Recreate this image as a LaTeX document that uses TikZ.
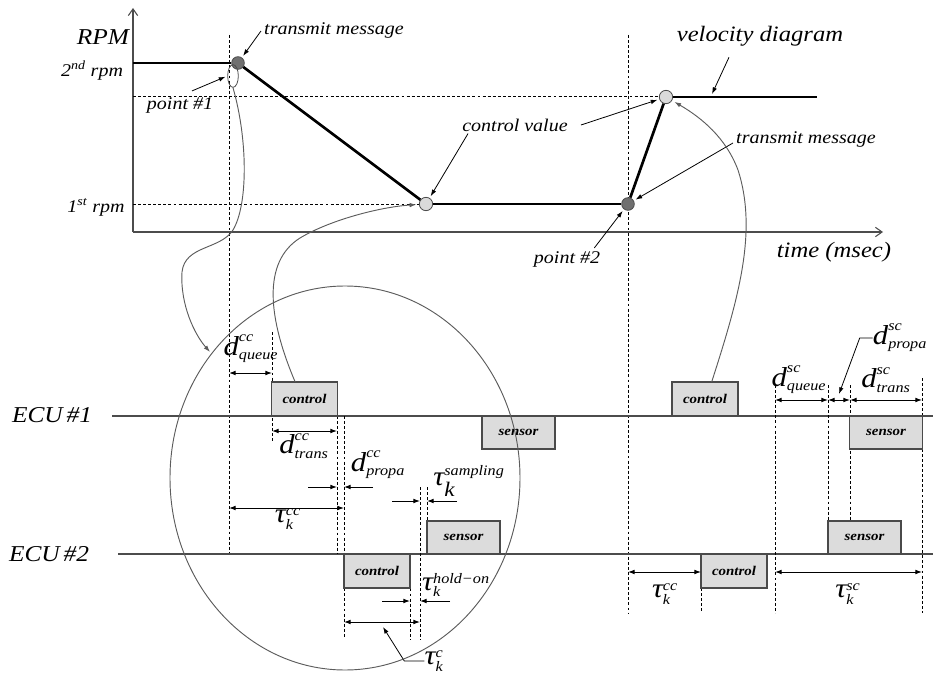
\documentclass[tikz,border=0pt]{standalone}
\usepackage{fontspec}
\usepackage{amsmath}
\setmainfont{Liberation Serif}
\newfontfamily\labfam{Liberation Serif}[FakeStretch=1.12]
\usetikzlibrary{arrows.meta,shapes.geometric,calc}
\definecolor{boxfill}{HTML}{DCDCDC}
\definecolor{boxedge}{HTML}{4A4A4A}
\definecolor{axisgray}{HTML}{4C4C4C}
\definecolor{darkdot}{HTML}{707070}
\definecolor{lightdot}{HTML}{DADADA}
\definecolor{linkgray}{HTML}{5C5C5C}
% a delay label: large base letter with super- and subscript
\newcommand\dly[3]{$\text{\fontsize{20.5}{24}\selectfont #1}^{\text{#2}}_{\text{#3}}$}
% same, with the subscript set a little lower (superscript with descenders)
\newcommand\dlylow[3]{$\text{\fontsize{20.5}{24}\selectfont #1}^{\text{#2}}_{\raisebox{-2.5pt}{\text{#3}}}$}

\begin{document}
\begin{tikzpicture}[x=0.75pt,y=-0.75pt,
  lbl/.style={font=\labfam\itshape\fontsize{13.4}{15}\selectfont, inner sep=0pt},
  biglbl/.style={font=\labfam\itshape\fontsize{16.5}{19}\selectfont, inner sep=0pt},
  ecul/.style={font=\labfam\itshape\fontsize{17}{20}\selectfont, inner sep=0pt},
  mlbl/.style={font=\labfam\itshape\fontsize{15.5}{19}\selectfont, inner sep=0pt},
  task/.style={draw=boxedge, fill=boxfill, line width=0.8pt, inner sep=0pt, outer sep=0pt,
    font=\labfam\bfseries\itshape\fontsize{10}{12}\selectfont},
  ctlbox/.style={task, minimum width=49.5pt, minimum height=25.5pt},
  senbox/.style={task, minimum width=54.75pt, minimum height=24.75pt},
  guide/.style={dash pattern=on 2.2pt off 1.6pt, line width=0.6pt},
  axis/.style={axisgray, line width=0.8pt, -{Straight Barb[length=5pt,width=7pt]}},
  ecu/.style={axisgray, line width=0.8pt},
  curve/.style={line width=2pt, line join=round},
  dim/.style={line width=0.7pt, {Latex[length=5pt,width=3.6pt]}-{Latex[length=5pt,width=3.6pt]}},
  half/.style={line width=0.7pt, -{Latex[length=5pt,width=3.6pt]}},
  ptr/.style={line width=0.6pt, -{Latex[length=5pt,width=3.4pt]}},
  link/.style={linkgray, line width=0.7pt, -{Latex[length=5pt,width=3.4pt]}},
  dotdark/.style={circle, draw=axisgray, fill=darkdot, line width=0.6pt, minimum size=9.5pt, inner sep=0pt},
  dotlight/.style={circle, draw=axisgray, fill=lightdot, line width=0.6pt, minimum size=10pt, inner sep=0pt}
]
\useasboundingbox (0,0) rectangle (933,674);

% ---------------- velocity diagram ----------------
\draw[axis] (133,232) -- (133,8);
\draw[axis] (133,232) -- (883,232);

\node[biglbl, anchor=center] (rpm) at (103,37) {\fontsize{17}{20}\selectfont RPM};
\node[lbl] (r2) at (92,71) {2\textsuperscript{nd} rpm};
\node[lbl] (r1) at (96,207) {1\textsuperscript{st} rpm};

% guide lines of the plot
\draw[guide] (133,96) -- (660,96);
\draw[guide] (133,204) -- (419,204);
\draw[guide] (229,35) -- (229,554);
\draw[guide] (628,35) -- (628,613);

% event points
\node[dotdark]  (c1) at (238,63) {};
\node[dotlight] (c2) at (426,204) {};
\node[dotdark]  (c3) at (628,204) {};
\node[dotlight] (c4) at (666,97) {};
\node[ellipse, draw=axisgray, line width=0.6pt, minimum width=8pt, minimum height=17pt, inner sep=0pt] (pt1) at (233,76) {};

\coordinate (rpm2) at (133,63);
\coordinate (vend) at (817,97);
\draw[curve] (rpm2) -- (c1);
\draw[curve] (c1) -- (c2);
\draw[curve] (c2) -- (c3);
\draw[curve] (c3) -- (c4);
\draw[curve] (c4) -- (vend);

% annotations of the plot
\node[lbl] (tm1) at (334,30) {transmit message};
\node[lbl] (p1) at (180,105) {point \#1};
\node[lbl] (cv) at (515,125) {control value};
\node[biglbl] (vd) at (760,36) {velocity diagram};
\node[lbl] (tm2) at (806,139) {transmit message};
\node[lbl] (p2) at (567,259) {point \#2};
\node[biglbl] (tx) at (834,252) {time (msec)};

\draw[ptr, shorten >=1.5pt] ($(tm1.west)+(-3,1)$) -- (c1);
\draw[ptr, shorten >=1.5pt] ($(p1.north)+(12,-6)$) -- (pt1.west);
\draw[ptr, shorten >=1.5pt] ($(cv.south west)+(6,2)$) -- (c2);
\draw[ptr, shorten >=1.5pt] ($(cv.east)+(13,0)$) -- (c4);
\coordinate (vdt) at (712,94);
\draw[ptr] ($(vd.south)+(-31,11)$) -- (vdt);
\draw[ptr, shorten >=1.5pt] ($(tm2.west)+(-3,4)$) -- (c3);
\draw[ptr, shorten >=1.5pt] ($(p2.north east)+(-6,-3)$) -- (c3);

% ---------------- ECU time lines ----------------
\node[ecul] (e1) at (52,415) {ECU\,\#1};
\node[ecul] (e2) at (49,554) {ECU\,\#2};
\draw[ecu] (112,416) -- (933,416);
\draw[ecu] (118,554) -- (933,554);

% guide lines of the timing part
\draw[guide] (272,332) -- (272,443);
\draw[guide] (337,416) -- (337,554);
\draw[guide] (344,416) -- (344,638);
\draw[guide] (420,487) -- (420,640);
\draw[guide] (427,487) -- (427,521);
\draw[guide] (410,553) -- (410,640);
\draw[guide] (701,588) -- (701,613);
\draw[guide] (775,385) -- (775,613);
\draw[guide] (828,385) -- (828,521);
\draw[guide] (850,385) -- (850,521);
\draw[guide] (922,378) -- (922,613);

% tasks
\node[ctlbox] (ctl1) at (304.5,399) {control};
\node[senbox] (sen1) at (518.5,432.5) {sensor};
\node[senbox] (sen2) at (463.5,537.5) {sensor};
\node[ctlbox] (ctl2) at (377,571) {control};
\node[ctlbox] (ctl3) at (705,399) {control};
\node[senbox] (sen3) at (886,432.5) {sensor};
\node[senbox] (sen4) at (864.5,537.5) {sensor};
\node[ctlbox] (ctl4) at (734,571) {control};

% delays of the control message
\draw[dim] (229,373) -- (272,373);
\draw[dim] (272,431) -- (337,431);
\draw[half] (308,487) -- (337,487);
\draw[half] (373,487) -- (344,487);
\draw[dim] (229,508) -- (344,508);
\draw[half] (392,501) -- (420,501);
\draw[half] (457,501) -- (427,501);
\draw[half] (382,601) -- (410,601);
\draw[half] (450,601) -- (420,601);
\draw[dim] (344,622) -- (420,622);

\node[mlbl] (dq1) at (251,349) {\dly{d}{cc}{queue}};
\node[mlbl] (dt1) at (304,446) {\dly{d}{cc}{trans}};
\node[mlbl] (dp1) at (378,465) {\dly{d}{cc}{propa}};
\node[mlbl] (tcc1) at (288,519) {\dly{τ}{cc}{k}};
\node[mlbl] (ts) at (469,481) {\dlylow{τ}{sampling}{k}};
\node[mlbl] (th) at (456,585) {\dly{τ}{hold−on}{k}};
\node[mlbl] (tc) at (434,661) {\dly{τ}{c}{k}};
\coordinate (tcp) at (383,627);
\draw[ptr] (tc.west) -- ++(-20,0) -- (tcp);

% delays of the sensor message
\draw[dim] (775,400) -- (828,400);
\draw[dim] (828,400) -- (850,400);
\draw[dim] (850,400) -- (922,400);
\draw[dim] (628,572) -- (701,572);
\draw[dim] (775,572) -- (922,572);

\node[mlbl] (dq2) at (799,380) {\dly{d}{sc}{queue}};
\node[mlbl] (dp2) at (900,338) {\dly{d}{sc}{propa}};
\node[mlbl] (dt2) at (886,380) {\dly{d}{sc}{trans}};
\node[mlbl] (tcc2) at (665,594) {\dly{τ}{cc}{k}};
\node[mlbl] (tsc) at (848,594) {\dly{τ}{sc}{k}};
\coordinate (dpp) at (839,394);
\draw[ptr] (dp2.west) -- ++(-13,0) -- (dpp);

% ---------------- links between the two parts ----------------
\draw[linkgray, line width=0.7pt] (345,478) ellipse [x radius=131.25pt, y radius=144pt];
\coordinate (zin) at (210,352);
\draw[link] (pt1.south) .. controls (248,140) and (248,205) .. (233,230)
  .. controls (220,250) and (185,245) .. (182,272)
  .. controls (180,305) and (195,335) .. (zin);
\draw[link, shorten >=2pt] ([xshift=-7pt]ctl1.north) .. controls (268,318) and (262,262) .. (300,238)
  .. controls (330,220) and (380,207) .. (c2);
\draw[link, shorten >=2pt] ([xshift=5pt]ctl3.north) .. controls (738,300) and (758,232) .. (738,170)
  .. controls (726,138) and (702,118) .. (c4);
\end{tikzpicture}
\end{document}
